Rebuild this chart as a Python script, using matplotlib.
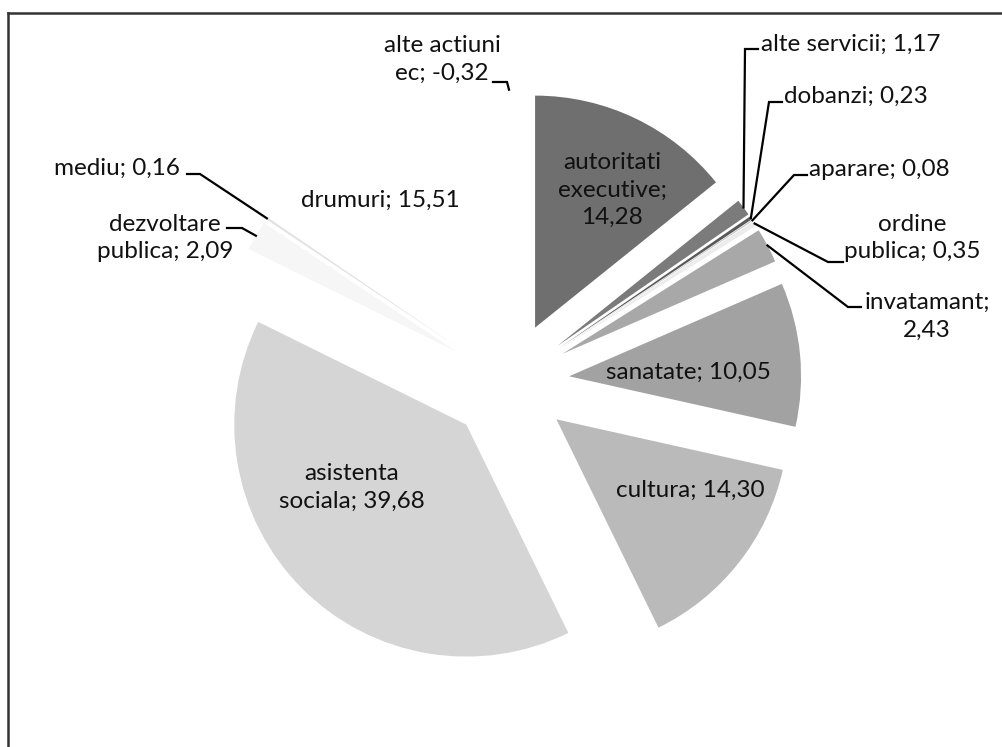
import matplotlib
matplotlib.use('Agg')
import matplotlib.pyplot as plt
import numpy as np

# date (clockwise from top)
categories = ['autoritati executive', 'alte servicii', 'dobanzi', 'aparare',
              'ordine publica', 'invatamant', 'sanatate', 'cultura',
              'asistenta sociala', 'dezvoltare publica', 'mediu', 'drumuri',
              'alte actiuni ec']
values = [14.28, 1.17, 0.23, 0.08, 0.35, 2.43, 10.05, 14.30,
          39.68, 2.09, 0.16, 15.51, -0.32]
colors = ['#6f6f6f', '#7b7b7b', '#5a5a5a', '#c4c4c4', '#ececec', '#a8a8a8',
          '#a2a2a2', '#bababa', '#d5d5d5', '#f6f6f6', '#e2e2e2', '#ffffff',
          '#ffffff']

# label text (romanian decimal comma)
label_names = ['autoritati\nexecutive;\n', 'alte servicii;', 'dobanzi;', 'aparare;',
               'ordine\npublica;', 'invatamant;\n', 'sanatate;', 'cultura;',
               'asistenta\nsociala;', 'dezvoltare\npublica;', 'mediu;',
               'drumuri;', 'alte actiuni\nec;']

W, H = 1003, 747
R = 232
plt.rcParams['font.family'] = ['Lato', 'DejaVu Sans']

fig = plt.figure(figsize=(W / 100, H / 100), dpi=100)
ax = fig.add_axes([0, 0, 1, 1])

sizes = np.clip(values, 0, None)
wedges, _ = ax.pie(sizes, colors=colors, startangle=90, counterclock=False,
                   explode=[0.26 * R] * len(sizes), radius=R, center=(509, 365),
                   wedgeprops=dict(linewidth=0))
ax.set_xlim(0, W)
ax.set_ylim(0, H)
ax.set_aspect('auto')
ax.axis('off')


def fmt(v):
    return ('%.2f' % v).replace('.', ',')


def label(i):
    name = label_names[i]
    if name.endswith('\n'):
        return name + fmt(values[i])
    return name + ' ' + fmt(values[i])


def outer_point(w):
    mid = np.deg2rad((w.theta1 + w.theta2) / 2)
    return w.center[0] + w.r * np.cos(mid), w.center[1] + w.r * np.sin(mid)


fs = 17.5
# x, y in image pixels, alignment, leader (start x, elbow x, elbow y)
layout = {
    0: (612, 190, 'center', None),
    1: (761, 44, 'left', (758, 745, 49)),
    2: (784, 96, 'left', (782, 769, 102)),
    3: (809, 169, 'left', (807, 794, 175)),
    4: (912, 238, 'center', (843, 828, 262)),
    5: (927, 316, 'center', (861, 848, 307)),
    6: (688, 372, 'center', None),
    7: (690, 490, 'center', None),
    8: (352, 487, 'center', None),
    9: (165, 238, 'center', (227, 242, 228)),
    10: (117, 168, 'center', (187, 200, 174)),
    11: (380, 200, 'center', None),
    12: (442, 59, 'center', (493, 507, 82)),
}

for i, (x, y, ha, lead) in layout.items():
    ax.text(x, H - y, label(i), ha=ha, va='center', fontsize=fs,
            color='#111111', linespacing=1.4, multialignment='center')
    if lead is not None:
        px, py = outer_point(wedges[i])
        sx, ex, ey = lead[0], lead[1], H - lead[2]
        ax.plot([sx, ex, px], [ey, ey, py], color='black', lw=1.6,
                solid_joinstyle='miter')

# scanned frame (top and left only)
ax.plot([8, W], [H - 13, H - 13], color='#333333', lw=1.8)
ax.plot([8, 8], [H - 13, 0], color='#333333', lw=1.8)

fig.savefig('out.png', dpi=100)
